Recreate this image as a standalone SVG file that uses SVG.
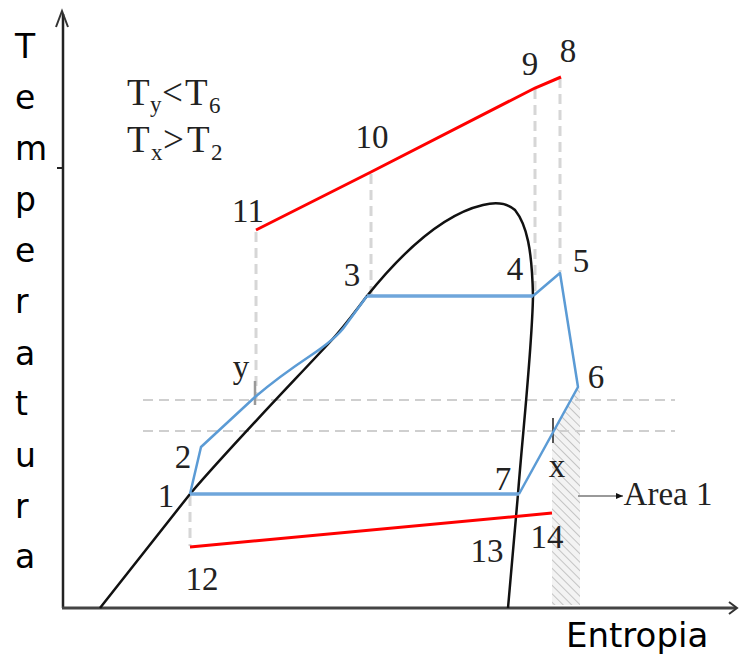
<svg xmlns="http://www.w3.org/2000/svg" width="739" height="659" viewBox="0 0 739 659">
<style>
.ax{font-family:"DejaVu Sans",sans-serif;font-size:33px;fill:#000}
.lb{font-family:"Liberation Serif",serif;font-size:33px;fill:#222;text-anchor:middle}
.tl{font-family:"Liberation Serif",serif;font-size:37px;fill:#222}
.sb{font-family:"Liberation Serif",serif;font-size:23px;fill:#222}
.dv{stroke:#d6d6d6;stroke-width:3;stroke-dasharray:10 6;fill:none}
.dh{stroke:#cfcfcf;stroke-width:2;stroke-dasharray:10 6;fill:none}
.red{stroke:#ff0000;stroke-width:3;fill:none}
.blue{stroke:#5b9bd5;stroke-width:2.5;fill:none;stroke-linejoin:round}
.blueh{stroke:#6fa6db;stroke-width:3.5;fill:none}
.dome{stroke:#111;stroke-width:2.5;fill:none}
</style>
<defs>
<pattern id="hatch" patternUnits="userSpaceOnUse" width="6" height="6" patternTransform="rotate(-45)">
<rect width="6" height="6" fill="#f3f3f3"/>
<line x1="0" y1="0" x2="0" y2="6" stroke="#c4c4c4" stroke-width="2"/>
</pattern>
<marker id="ah" markerWidth="8" markerHeight="8" refX="7" refY="4" orient="auto" markerUnits="userSpaceOnUse">
<path d="M0,1 L7,4 L0,7 Z" fill="#111"/>
</marker>
</defs>
<rect width="739" height="659" fill="#fff"/>

<g id="hatched-area">
<polygon points="552,435 578,388 580,388 580,605 552,605" fill="url(#hatch)"/>
</g>

<g id="guides">
<line class="dh" x1="143" y1="400" x2="675" y2="400"/>
<line class="dh" x1="143" y1="431" x2="675" y2="431"/>
<line class="dv" x1="256" y1="232" x2="256" y2="400"/>
<line class="dv" x1="371" y1="174" x2="371" y2="296"/>
<line class="dv" x1="535" y1="89" x2="535" y2="296"/>
<line class="dv" x1="560" y1="78" x2="560" y2="272"/>
<line class="dv" x1="190" y1="496" x2="190" y2="546"/>
<line x1="255" y1="381" x2="255" y2="405" stroke="#999" stroke-width="2.5"/>
<line x1="553" y1="418" x2="553" y2="443" stroke="#555" stroke-width="2"/>
</g>

<g id="axes">
<line x1="63" y1="608" x2="63" y2="14" stroke="#222" stroke-width="2.5"/>
<path d="M56,27 L62,11 L68,27" fill="none" stroke="#333" stroke-width="2"/>
<line x1="57" y1="168" x2="63" y2="168" stroke="#222" stroke-width="2"/>
<line x1="62" y1="608" x2="736" y2="608" stroke="#444" stroke-width="3"/>
<path d="M729,602 L737,608 L729,614" fill="none" stroke="#333" stroke-width="2"/>
</g>

<g id="dome">
<path class="dome" d="M100,608 L190,494 C230,447 290,385 330,342 C345,326 357,309 367,296 C400,255 440,215 483,205 C495,202 507,203 515,210 C527,225 532,250 533,296 C532,350 522,440 518,494 L508,608"/>
</g>

<g id="cycle">
<path class="blue" d="M190,494 L201,447 L255,397 C275,380 295,366 310,356 C325,346 338,336 345,326 L367,296"/>
<line class="blueh" x1="367" y1="296" x2="533" y2="296"/>
<polyline class="blue" points="533,296 560,273 578,387 519,494"/>
<line class="blueh" x1="190" y1="494" x2="519" y2="494"/>
</g>

<g id="streams">
<polyline class="red" points="256,230 371,172 535,88 561,77"/>
<line class="red" x1="190" y1="547" x2="552" y2="513"/>
</g>

<g id="connectors">
<line x1="578" y1="496" x2="623" y2="496" stroke="#777" stroke-width="1.5" marker-end="url(#ah)"/>
</g>

<g id="axis-labels">
<text class="ax" x="15" y="58">T</text>
<text class="ax" x="15" y="109">e</text>
<text class="ax" x="15" y="160">m</text>
<text class="ax" x="15" y="211">p</text>
<text class="ax" x="15" y="262">e</text>
<text class="ax" x="15" y="313">r</text>
<text class="ax" x="15" y="365">a</text>
<text class="ax" x="15" y="415">t</text>
<text class="ax" x="15" y="467">u</text>
<text class="ax" x="15" y="518">r</text>
<text class="ax" x="15" y="568">a</text>
<text class="ax" x="566" y="647" style="font-size:34px">Entropia</text>
</g>

<g id="conditions">
<text class="tl" x="127" y="105">T</text>
<text class="sb" x="150" y="112">y</text>
<text class="tl" x="162" y="105">&lt;</text>
<text class="tl" x="185" y="105">T</text>
<text class="sb" x="209" y="113">6</text>
<text class="tl" x="127" y="152">T</text>
<text class="sb" x="151" y="160">x</text>
<text class="tl" x="163" y="152">&gt;</text>
<text class="tl" x="187" y="152">T</text>
<text class="sb" x="211" y="160">2</text>
</g>

<g id="point-labels">
<text class="lb" x="248" y="222">11</text>
<text class="lb" x="372" y="148">10</text>
<text class="lb" x="530" y="75">9</text>
<text class="lb" x="568" y="62">8</text>
<text class="lb" x="352" y="286">3</text>
<text class="lb" x="515" y="280">4</text>
<text class="lb" x="581" y="272">5</text>
<text class="lb" x="596" y="388">6</text>
<text class="lb" x="503" y="490">7</text>
<text class="lb" x="557" y="477">x</text>
<text class="lb" x="166" y="507">1</text>
<text class="lb" x="183" y="468">2</text>
<text class="lb" x="241" y="378">y</text>
<text class="lb" x="202" y="590">12</text>
<text class="lb" x="487" y="562">13</text>
<text class="lb" x="547" y="548">14</text>
<text class="lb" x="668" y="505">Area 1</text>
</g>
</svg>
